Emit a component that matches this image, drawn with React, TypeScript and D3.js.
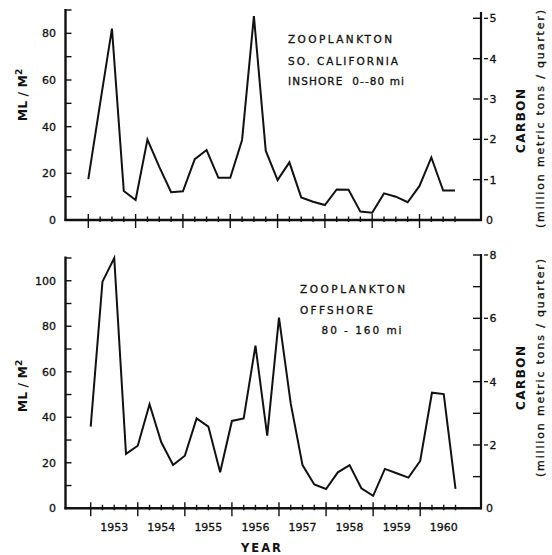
import React from 'react';
import * as d3 from 'd3';

// ---- data (quarterly values, 1953 Q1 .. 1960 Q4) ----
const years = [1953, 1954, 1955, 1956, 1957, 1958, 1959, 1960];
const inshoreML = [17.5, 50, 82, 12.4, 8.6, 34.5, 22.8, 11.9, 12.3, 26.1, 30, 18.1, 18.1, 34.3, 87.4, 29.7,
  17.1, 24.7, 9.7, 7.8, 6.4, 13.1, 13, 3.6, 3.1, 11.4, 10, 7.6, 14.6, 26.8, 12.6, 12.6];
const offshoreML = [35.9, 99.6, 110, 23.9, 27.5, 45.7, 29, 19, 23.1, 39.5, 35.9, 15.8, 38.4, 39.5, 71.5, 31.9,
  83.8, 46, 19, 10.5, 8.5, 15.8, 19, 8.8, 5.5, 17.3, 15.4, 13.5, 20.8, 50.8, 50.2, 8.5];

const inshoreLeftTicks = [0, 10, 20, 30, 40, 50, 60, 70, 80, 90];
const inshoreLeftLabels = [0, 20, 40, 60, 80];
const inshoreCarbonTicks = [0, 1, 2, 3, 4, 5];
const inshoreCarbonLabels = [0, 1, 2, 3, 4, 5];

const offshoreLeftTicks = [0, 10, 20, 30, 40, 50, 60, 70, 80, 90, 100, 110];
const offshoreLeftLabels = [0, 20, 40, 60, 80, 100];
const offshoreCarbonTicks = [0, 1, 2, 3, 4, 5, 6, 7, 8];
const offshoreCarbonLabels = [0, 2, 4, 6, 8];

const inshoreNote = ['ZOOPLANKTON', 'SO. CALIFORNIA', 'INSHORE  0--80 mi'];
const offshoreNote = ['ZOOPLANKTON', 'OFFSHORE', '80 - 160 mi'];

const FONT = "'DejaVu Sans', 'Liberation Sans', sans-serif";
const INK = '#111';

type NoteLine = { text: string; x: number; y: number; w: number };

type PanelProps = {
  data: number[];
  xr: [number, number];
  base: number;
  leftMax: number;
  leftTopPx: number;
  leftAxisTop: number;
  leftTicks: number[];
  leftLabels: number[];
  rightMax: number;
  rightTopPx: number;
  rightAxisTop: number;
  rightTicks: number[];
  rightLabels: number[];
  showYears: boolean;
  notes: NoteLine[];
  mlY: number;
  carbonY: number;
  parenY: number;
};

const AX_L = 65.5;
const AX_R = 481;
const heavy = { stroke: INK, strokeWidth: 0.3 };

function Panel(p: PanelProps) {
  const n = p.data.length;
  const x = d3.scaleLinear().domain([0, n - 1]).range(p.xr);
  const yL = d3.scaleLinear().domain([0, p.leftMax]).range([p.base, p.leftTopPx]);
  const yR = d3.scaleLinear().domain([0, p.rightMax]).range([p.base, p.rightTopPx]);
  const line = d3.line<number>().x((_, i) => x(i)).y((d) => yL(d));
  const idx = d3.range(n);

  return (
    <g>
      {/* data line */}
      <path d={line(p.data) || ''} fill="none" stroke={INK} strokeWidth={2} strokeLinejoin="miter" />
      {/* axes */}
      <line x1={AX_L} x2={AX_L} y1={p.leftAxisTop} y2={p.base + 1} stroke={INK} strokeWidth={2.4} />
      <line x1={AX_R} x2={AX_R} y1={p.rightAxisTop} y2={p.base + 1} stroke={INK} strokeWidth={2.2} />
      <line x1={AX_L - 1} x2={AX_R + 1} y1={p.base} y2={p.base} stroke={INK} strokeWidth={2.4} />
      {/* x ticks */}
      {idx.map((i) => {
        const major = i % 4 === 0;
        return (
          <line key={'xt' + i} x1={x(i)} x2={x(i)} y1={p.base - (major ? 6 : 3.5)} y2={p.base + (major ? 8 : 2)}
            stroke={INK} strokeWidth={1.4} />
        );
      })}
      {/* left ticks */}
      {p.leftTicks.map((t) => (
        <line key={'lt' + t} x1={AX_L} x2={AX_L + 6} y1={yL(t)} y2={yL(t)} stroke={INK} strokeWidth={1.4} />
      ))}
      {p.leftLabels.map((t) => (
        <text key={'ll' + t} x={56} y={yL(t)} dy="0.36em" textAnchor="end" fontFamily={FONT} fontSize={11} fill={INK} {...heavy}>
          {t}
        </text>
      ))}
      {/* right ticks */}
      {p.rightTicks.map((t) => (
        <line key={'rt' + t} x1={AX_R - 8} x2={AX_R} y1={yR(t)} y2={yR(t)} stroke={INK} strokeWidth={1.4} />
      ))}
      {p.rightLabels.map((t) => (
        <g key={'rl' + t}>
          {t !== 0 && (
            <line x1={AX_R + 3} x2={AX_R + 7} y1={yR(t)} y2={yR(t)} stroke={INK} strokeWidth={1.3} />
          )}
          <text x={t === 0 ? AX_R + 5 : AX_R + 8.5} y={yR(t)} dy="0.36em" fontFamily={FONT} fontSize={11} fill={INK} {...heavy}>
            {t}
          </text>
        </g>
      ))}
      {/* year labels */}
      {p.showYears && years.map((yr, i) => (
        <text key={'yr' + yr} x={x(i * 4 + 2)} y={530.5} textAnchor="middle" fontFamily={FONT} fontSize={11} fill={INK} {...heavy}>
          {yr}
        </text>
      ))}
      {/* notes */}
      {p.notes.map((nl, i) => (
        <text key={'n' + i} x={nl.x} y={nl.y} fontFamily={FONT} fontSize={10.5} fill={INK} {...heavy}
          textLength={nl.w} lengthAdjust="spacing" xmlSpace="preserve">
          {nl.text}
        </text>
      ))}
      {/* axis titles */}
      <text transform={`translate(22,${p.mlY}) rotate(-90)`} textAnchor="middle" dy="0.36em"
        fontFamily={FONT} fontSize={12.5} fontWeight="bold" fill={INK}>
        ML / M<tspan fontSize={9} dy="-0.55em">2</tspan>
      </text>
      <text transform={`translate(521,${p.carbonY}) rotate(-90)`} textAnchor="middle" dy="0.36em"
        fontFamily={FONT} fontSize={12} fontWeight="bold" fill={INK} textLength={64} lengthAdjust="spacing">
        CARBON
      </text>
      <text transform={`translate(541,${p.parenY}) rotate(-90)`} textAnchor="middle" dy="0.3em"
        fontFamily={FONT} fontSize={11} fill={INK} {...heavy} textLength={218} lengthAdjust="spacing">
        (million metric tons / quarter)
      </text>
    </g>
  );
}

export default function App() {
  return (
    <svg width={552} height={555} viewBox="0 0 552 555"
      style={{ position: 'absolute', left: 0, top: 0, background: '#fff' }}>
      <rect x={0} y={0} width={552} height={555} fill="#fff" />
      <Panel
        data={inshoreML}
        xr={[88.3, 455]}
        base={220}
        leftMax={90}
        leftTopPx={10}
        leftAxisTop={9}
        leftTicks={inshoreLeftTicks}
        leftLabels={inshoreLeftLabels}
        rightMax={5}
        rightTopPx={18.3}
        rightAxisTop={12}
        rightTicks={inshoreCarbonTicks}
        rightLabels={inshoreCarbonLabels}
        showYears={false}
        notes={[
          { text: inshoreNote[0], x: 288, y: 43.3, w: 104 },
          { text: inshoreNote[1], x: 288, y: 65, w: 110 },
          { text: inshoreNote[2], x: 288, y: 85, w: 116 },
        ]}
        mlY={95}
        carbonY={121}
        parenY={119}
      />
      <Panel
        data={offshoreML}
        xr={[90.7, 455.5]}
        base={508.3}
        leftMax={110}
        leftTopPx={258}
        leftAxisTop={256.5}
        leftTicks={offshoreLeftTicks}
        leftLabels={offshoreLeftLabels}
        rightMax={8}
        rightTopPx={255}
        rightAxisTop={254}
        rightTicks={offshoreCarbonTicks}
        rightLabels={offshoreCarbonLabels}
        showYears={true}
        notes={[
          { text: offshoreNote[0], x: 300, y: 293, w: 105 },
          { text: offshoreNote[1], x: 300, y: 314, w: 73 },
          { text: offshoreNote[2], x: 321.5, y: 334, w: 80 },
        ]}
        mlY={386}
        carbonY={378}
        parenY={368}
      />
      <text x={262} y={552} textAnchor="middle" fontFamily={FONT} fontSize={11.5} fontWeight="bold"
        letterSpacing={2} fill={INK}>
        YEAR
      </text>
    </svg>
  );
}
